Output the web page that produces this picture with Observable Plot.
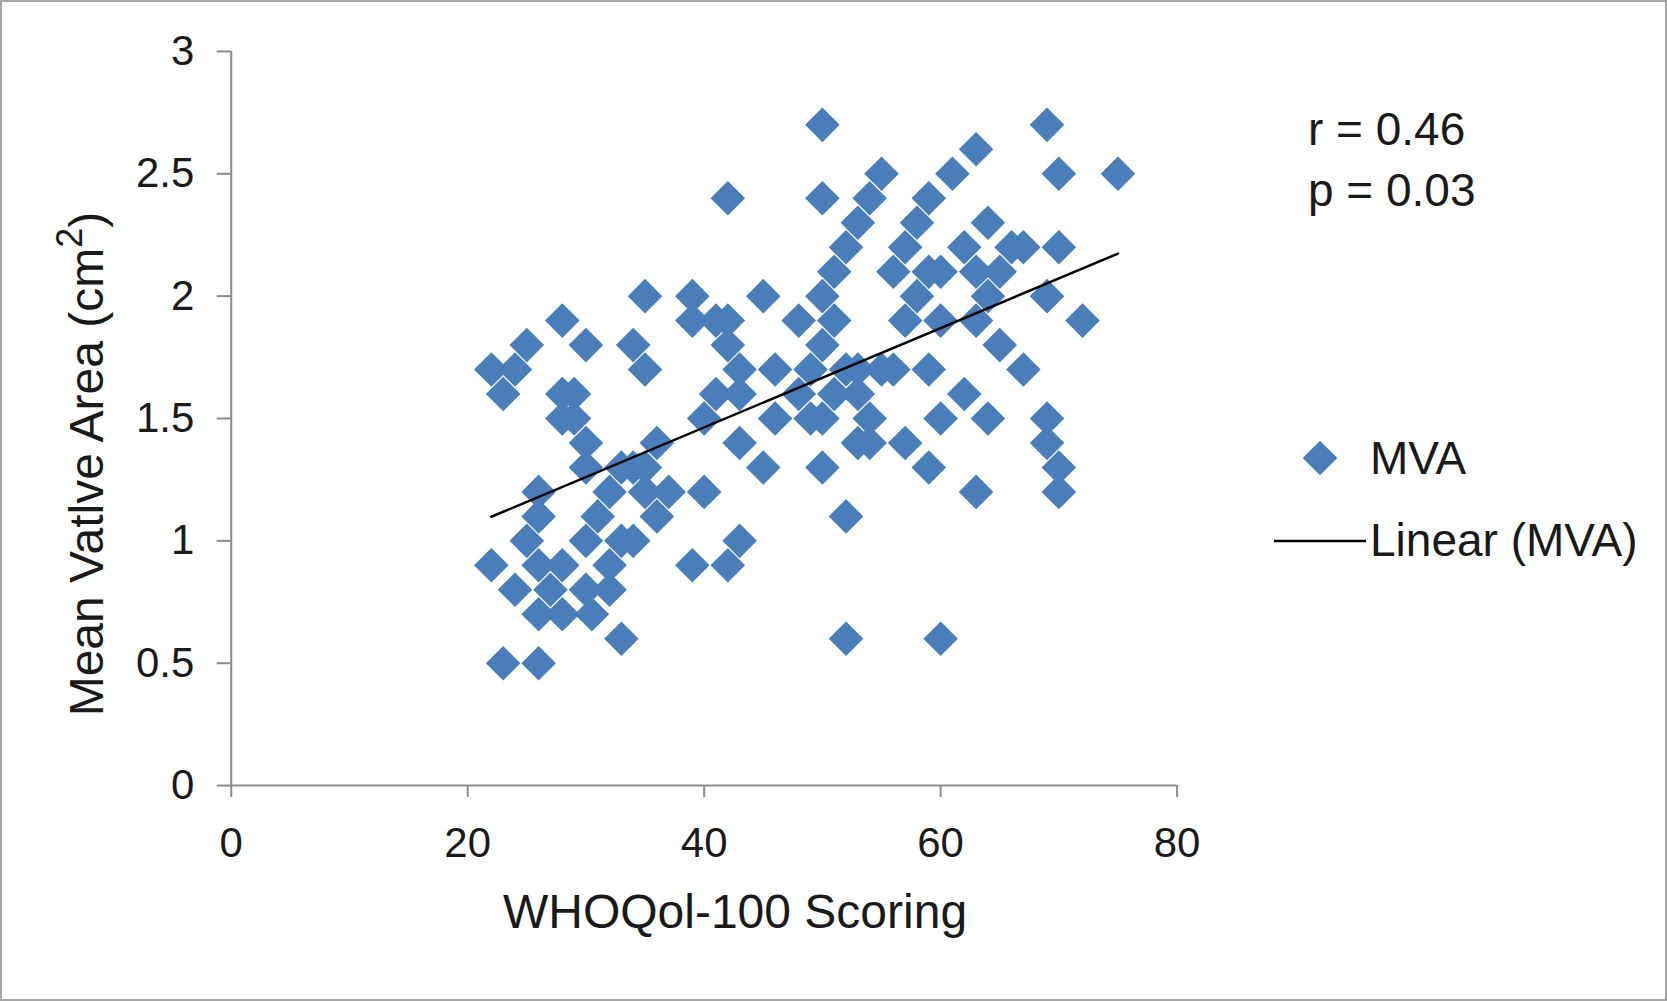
<!DOCTYPE html>
<html>
<head>
<meta charset="utf-8">
<script src="https://cdn.jsdelivr.net/npm/d3@7"></script>
<script src="https://cdn.jsdelivr.net/npm/@observablehq/plot@0.6"></script>
<style>
  html, body { margin: 0; padding: 0; overflow: hidden; background: #fff; }
  #wrap { position: relative; width: 1667px; height: 1001px; box-sizing: border-box; border: 2px solid #a6a6a6; background: #fff; font-family: "Liberation Sans", Arial, sans-serif; color: #1a1a1a; }
  #chart { position: absolute; left: -2px; top: -2px; }
  .abs { position: absolute; white-space: nowrap; line-height: 1; }
  #ytitle { left: 81px; top: 462px; font-size: 48px; transform: translate(-50%, -50%) rotate(-90deg); }
  #ytitle sup { font-size: 36px; position: relative; top: -4px; }
  #xtitle { left: 733px; top: 910px; font-size: 48px; transform: translate(-50%, -50%); }
  .stat { left: 1306px; font-size: 46px; transform: translateY(-50%); }
  .leg { left: 1368px; font-size: 46px; transform: translateY(-50%); }
</style>
</head>
<body>
<div id="wrap">
  <div id="chart"></div>
  <div id="ytitle" class="abs"></div>
  <div id="xtitle" class="abs"></div>
  <div id="stat1" class="abs stat" style="top:127px"></div>
  <div id="stat2" class="abs stat" style="top:188px"></div>
  <svg class="abs" style="left:1288px;top:426px" width="60" height="60"><path id="legsym" transform="translate(30,30)" fill="#4a7ebb"></path></svg>
  <div id="leg1" class="abs leg" style="top:456px"></div>
  <svg class="abs" style="left:1270px;top:529px" width="96" height="20"><line x1="2" x2="94" y1="10" y2="10" stroke="#000" stroke-width="2.5"></line></svg>
  <div id="leg2" class="abs leg" style="top:538px"></div>
</div>
<script>
// WHOQoL-100 score (x) and mean valve area in cm² (y)
const scoring = [
  50, 69,
  63,
  55, 61, 70, 75,
  42, 50, 54, 59,
  53, 58, 64,
  52, 57, 62, 66, 67, 70,
  51, 56, 59, 60, 63, 65,
  35, 39, 45, 50, 58, 64, 69,
  28, 39, 41, 42, 48, 51, 57, 60, 63, 72,
  25, 30, 34, 42, 50, 65,
  22, 24, 35, 43, 46, 49, 52, 53, 55, 56, 59, 67,
  23, 28, 29, 41, 43, 48, 51, 53, 62,
  28, 29, 40, 46, 49, 50, 54, 60, 64, 69,
  30, 36, 43, 53, 54, 57, 69,
  30, 33, 34, 35, 45, 50, 59, 70,
  26, 32, 35, 37, 40, 63, 70,
  26, 31, 36, 52,
  25, 30, 33, 34, 43,
  22, 26, 28, 32, 39, 42,
  24, 27, 30, 32,
  26, 28, 30.5,
  33, 52, 60,
  23, 26
];
const mva = [
  2.7, 2.7,
  2.6,
  2.5, 2.5, 2.5, 2.5,
  2.4, 2.4, 2.4, 2.4,
  2.3, 2.3, 2.3,
  2.2, 2.2, 2.2, 2.2, 2.2, 2.2,
  2.1, 2.1, 2.1, 2.1, 2.1, 2.1,
  2.0, 2.0, 2.0, 2.0, 2.0, 2.0, 2.0,
  1.9, 1.9, 1.9, 1.9, 1.9, 1.9, 1.9, 1.9, 1.9, 1.9,
  1.8, 1.8, 1.8, 1.8, 1.8, 1.8,
  1.7, 1.7, 1.7, 1.7, 1.7, 1.7, 1.7, 1.7, 1.7, 1.7, 1.7, 1.7,
  1.6, 1.6, 1.6, 1.6, 1.6, 1.6, 1.6, 1.6, 1.6,
  1.5, 1.5, 1.5, 1.5, 1.5, 1.5, 1.5, 1.5, 1.5, 1.5,
  1.4, 1.4, 1.4, 1.4, 1.4, 1.4, 1.4,
  1.3, 1.3, 1.3, 1.3, 1.3, 1.3, 1.3, 1.3,
  1.2, 1.2, 1.2, 1.2, 1.2, 1.2, 1.2,
  1.1, 1.1, 1.1, 1.1,
  1.0, 1.0, 1.0, 1.0, 1.0,
  0.9, 0.9, 0.9, 0.9, 0.9, 0.9,
  0.8, 0.8, 0.8, 0.8,
  0.7, 0.7, 0.7,
  0.6, 0.6, 0.6,
  0.5, 0.5
];
const xTicks = [0, 20, 40, 60, 80];
const xTickLabels = ["0", "20", "40", "60", "80"];
const yTicks = [0, 0.5, 1, 1.5, 2, 2.5, 3];
const yTickLabels = ["0", "0.5", "1", "1.5", "2", "2.5", "3"];
const xTitle = "WHOQol-100 Scoring";
const yTitle = "Mean Vatlve Area (cm";
const yTitleSup = "2";
const statLines = ["r = 0.46", "p = 0.03"];
const seriesName = "MVA";
const trendName = "Linear (MVA)";

const data = scoring.map((x, i) => ({x, y: mva[i]}));
const blue = "#4a7ebb";
const axisGray = "#8c8c8c";

const chart = Plot.plot({
  width: 1667,
  height: 1001,
  marginLeft: 231,
  marginRight: 489,
  marginTop: 51,
  marginBottom: 215,
  x: {domain: [0, 80]},
  y: {domain: [0, 3]},
  style: {fontFamily: "'Liberation Sans', Arial, sans-serif", fontSize: "42px", color: "#1a1a1a", background: "transparent", overflow: "visible"},
  marks: [
    Plot.axisY(yTicks, {tickSize: 14, tickPadding: 23, stroke: axisGray, strokeWidth: 2, fontSize: 42, label: null,
      tickFormat: d => yTickLabels[yTicks.indexOf(d)]}),
    Plot.axisX(xTicks, {tickSize: 12, tickPadding: 30, stroke: axisGray, strokeWidth: 2, fontSize: 42, label: null,
      tickFormat: d => xTickLabels[xTicks.indexOf(d)]}),
    Plot.ruleX([0], {stroke: axisGray, strokeWidth: 2}),
    Plot.ruleY([0], {stroke: axisGray, strokeWidth: 2}),
    Plot.dot(data, {x: "x", y: "y", symbol: "diamond2", r: 15.6, fill: blue, stroke: "none"}),
    Plot.linearRegressionY(data, {x: "x", y: "y", stroke: "#000", strokeWidth: 2.5, ci: 0})
  ]
});
document.getElementById("chart").appendChild(chart);

document.getElementById("ytitle").innerHTML = "";
document.getElementById("ytitle").append(yTitle);
const sup = document.createElement("sup"); sup.textContent = yTitleSup;
document.getElementById("ytitle").append(sup, ")");
document.getElementById("xtitle").textContent = xTitle;
document.getElementById("stat1").textContent = statLines[0];
document.getElementById("stat2").textContent = statLines[1];
document.getElementById("leg1").textContent = seriesName;
document.getElementById("leg2").textContent = trendName;
document.getElementById("legsym").setAttribute("d", d3.symbol(d3.symbolDiamond2, Math.PI * 15.6 * 15.6)());
</script>
</body>
</html>
